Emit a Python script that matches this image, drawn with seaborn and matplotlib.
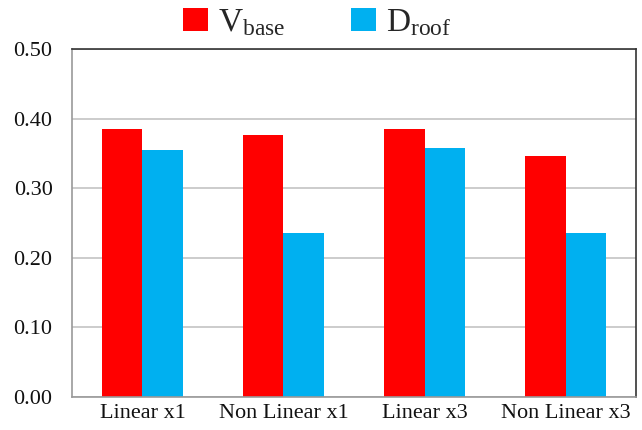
import matplotlib
matplotlib.use("Agg")
import matplotlib.pyplot as plt
import seaborn as sns
import pandas as pd

categories = ["Linear x1", "Non Linear x1", "Linear x3", "Non Linear x3"]
v_base = [0.385, 0.377, 0.385, 0.347]
d_roof = [0.355, 0.235, 0.358, 0.236]
series_labels = [r"V$_{\mathrm{base}}$", r"D$_{\mathrm{roof}}$"]
y_ticks = [0.0, 0.1, 0.2, 0.3, 0.4, 0.5]

df = pd.DataFrame({
    "case": categories * 2,
    "value": v_base + d_roof,
    "series": [series_labels[0]] * len(categories) + [series_labels[1]] * len(categories),
})

sns.set_theme(style="white")
plt.rcParams["font.family"] = ["Liberation Serif", "DejaVu Serif"]
plt.rcParams["mathtext.fontset"] = "custom"
plt.rcParams["mathtext.rm"] = "Liberation Serif"
plt.rcParams["mathtext.it"] = "Liberation Serif:italic"

fig = plt.figure(figsize=(6.42, 4.30), dpi=100)
ax = fig.add_axes([0.1121, 0.0767, 0.8786, 0.8093])

sns.barplot(data=df, x="case", y="value", hue="series", order=categories,
            hue_order=series_labels, palette=["#FF0000", "#00B0F0"],
            width=0.57, saturation=1, linewidth=0, ax=ax, legend=True)

ax.set_ylim(0, 0.5)
ax.set_yticks(y_ticks)
ax.set_yticklabels([f"{t:.2f}" for t in y_ticks])
ax.set_xlabel("")
ax.set_ylabel("")
ax.yaxis.grid(True, color="#C4C4C4", linewidth=1.2)
ax.set_axisbelow(True)
ax.tick_params(axis="both", labelsize=16, colors="#111111", length=0)
ax.tick_params(axis="x", pad=5)
ax.tick_params(axis="y", pad=14)

for side in ["top", "right"]:
    ax.spines[side].set_color("#333333")
    ax.spines[side].set_linewidth(1.2)
for side in ["left", "bottom"]:
    ax.spines[side].set_color("#999999")
    ax.spines[side].set_linewidth(1.2)

handles, labels = ax.get_legend_handles_labels()
ax.legend_.remove()
fig.legend(handles, labels, loc="center", bbox_to_anchor=(0.494, 0.947),
           ncol=2, frameon=False, fontsize=24, handlelength=0.75,
           handleheight=0.72, columnspacing=2.0, handletextpad=0.3,
           borderaxespad=0.0)

fig.savefig("out.png", dpi=100)
